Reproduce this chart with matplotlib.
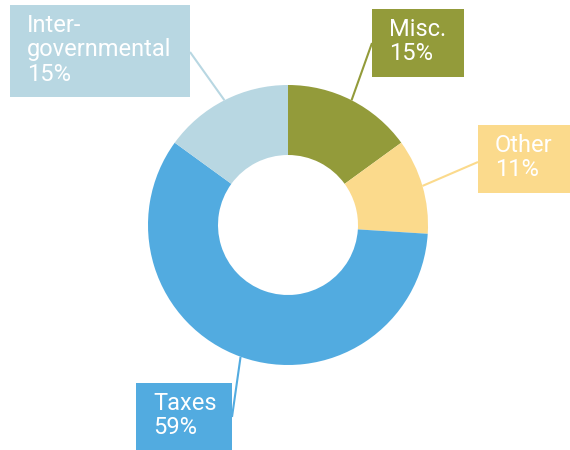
import numpy as np
import matplotlib
matplotlib.use("Agg")
import matplotlib.pyplot as plt
from matplotlib.patches import Rectangle

plt.rcParams["font.family"] = ["Roboto", "DejaVu Sans"]

# ── Data ───────────────────────────────────────────────────────────────────
labels = ["Misc.", "Other", "Taxes", "Inter-\ngovernmental"]
shares = [15, 11, 59, 15]
colors = ["#939B3A", "#FBDA8C", "#52ABE0", "#B8D7E2"]

# label boxes in pixel coords (x0, y0_top, x1, y1_bottom) and where the leader leaves
boxes = [(372, 9, 464, 77), (478, 125, 570, 193), (136, 383, 232, 452), (10, 5, 190, 97)]
anchors = [(372, 43), (478, 162), (232, 417), (190, 52)]

W, H = 570, 450
CX, CY, R = 288, 225, 140

fig = plt.figure(figsize=(W / 100, H / 100), dpi=100)
ax = fig.add_axes([0, 0, 1, 1])

# pie on flipped y axis -> counterclock=True draws clockwise on screen
wedges, _ = ax.pie(shares, colors=colors, startangle=-90, counterclock=True,
                   center=(CX, CY), radius=R, frame=True,
                   wedgeprops=dict(width=R / 2, linewidth=0))
ax.set_xlim(0, W)
ax.set_ylim(H, 0)
ax.set_aspect("equal")
ax.axis("off")

for w, lab, val, c, (x0, y0, x1, y1), (axp, ayp) in zip(
        wedges, labels, shares, colors, boxes, anchors):
    mid = np.deg2rad((w.theta1 + w.theta2) / 2)
    px = CX + R * np.cos(mid)
    py = CY + R * np.sin(mid)
    ax.plot([axp, px], [ayp, py], color=c, lw=1.5, solid_capstyle="butt", zorder=1)
    ax.add_patch(Rectangle((x0, y0), x1 - x0, y1 - y0, facecolor=c,
                           edgecolor="none", zorder=2))
    ax.text(x0 + 17, y0 + 9, f"{lab}\n{val}%", color="white", fontsize=17,
            ha="left", va="top", linespacing=1.08, zorder=3)

fig.savefig("out.png", dpi=100)
